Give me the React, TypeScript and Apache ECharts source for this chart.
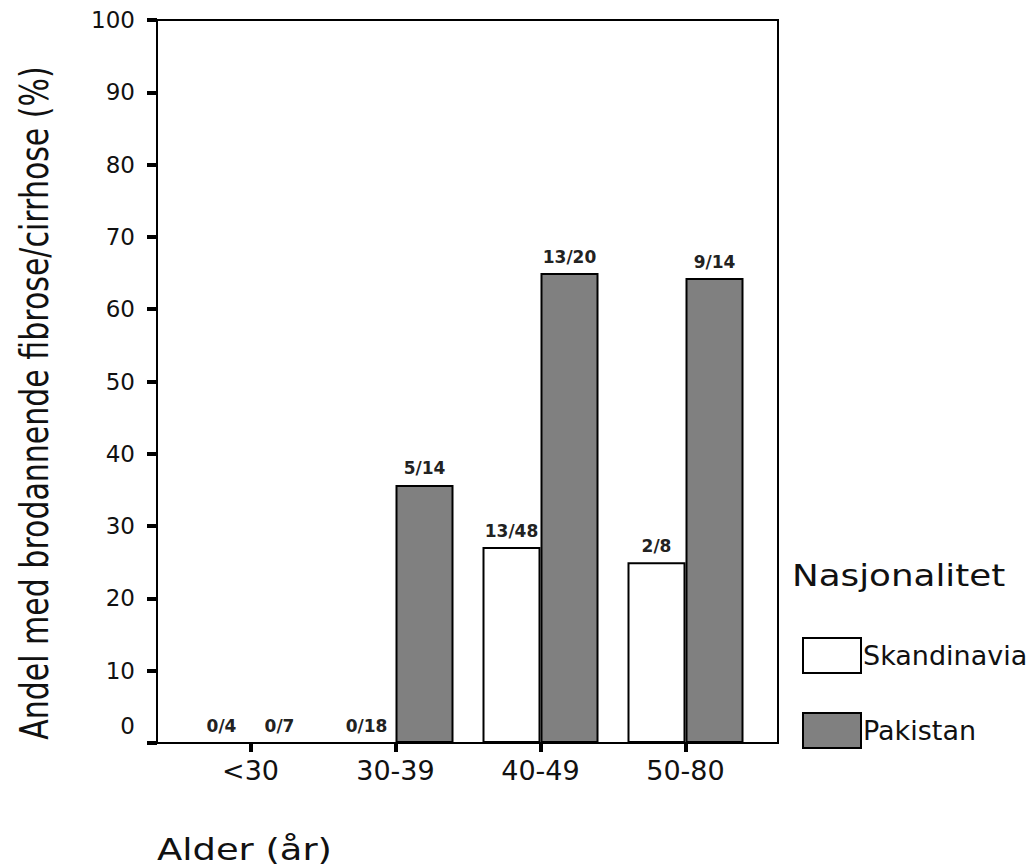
import React, { useEffect, useRef } from "react";
import * as echarts from "echarts";

const ageGroups = ["<30", "30-39", "40-49", "50-80"];
const skandinaviaValues = [0, 0, 27.1, 25.0];
const pakistanValues = [0, 35.7, 65.0, 64.3];
const skandinaviaLabels = ["0/4", "0/18", "13/48", "2/8"];
const pakistanLabels = ["0/7", "5/14", "13/20", "9/14"];
const seriesNames = ["Skandinavia", "Pakistan"];
const yTicks = { min: 0, max: 100, interval: 10 };

const FONT = "DejaVu Sans";

export default function App() {
  const ref = useRef<HTMLDivElement>(null);
  useEffect(() => {
    if (!ref.current) return;
    const chart = echarts.init(ref.current, null, { renderer: "svg" });
    const barLabel = (labels: string[]) => ({
      show: true,
      position: "top",
      distance: 8,
      fontFamily: FONT,
      fontSize: 17,
      fontWeight: "bold",
      color: "#222",
      formatter: (p: any) => labels[p.dataIndex],
    });
    chart.setOption({
      animation: false,
      backgroundColor: "#fff",
      grid: [
        { left: 157, top: 20, width: 621, height: 723, show: true, borderColor: "#000", borderWidth: 2, backgroundColor: "transparent" },
        { left: 178, top: 20, width: 580, height: 723 },
      ],
      xAxis: [
        { gridIndex: 0, type: "category", data: ageGroups, show: false },
        {
          gridIndex: 1,
          type: "category",
          data: ageGroups,
          axisLine: { show: false },
          axisTick: { show: true, alignWithLabel: true, length: 9, lineStyle: { color: "#000", width: 4 } },
          axisLabel: { fontFamily: FONT, fontSize: 27, color: "#111", margin: 14 },
        },
      ],
      yAxis: [
        {
          gridIndex: 0,
          type: "value",
          min: yTicks.min,
          max: yTicks.max,
          interval: yTicks.interval,
          axisLine: { show: false },
          splitLine: { show: false },
          axisTick: { show: true, length: 10, lineStyle: { color: "#000", width: 4 } },
          axisLabel: {
            fontFamily: FONT,
            fontSize: 23,
            lineHeight: 34,
            color: "#111",
            margin: 22,
            padding: [0, 0, 4, 0],
            formatter: (v: number) => (v === 0 ? "0\n " : String(v)),
          },
        },
        { gridIndex: 1, type: "value", min: yTicks.min, max: yTicks.max, show: false },
      ],
      legend: {
        orient: "vertical",
        left: 802,
        top: 637,
        padding: 0,
        itemWidth: 58,
        itemHeight: 35,
        itemGap: 38,
        icon: "rect",
        itemStyle: { borderColor: "#000", borderWidth: 2 },
        textStyle: { fontFamily: FONT, fontSize: 27, color: "#111", padding: [2, 0, 0, -3] },
        data: seriesNames,
      },
      series: [
        {
          name: seriesNames[0],
          type: "bar",
          xAxisIndex: 1,
          yAxisIndex: 1,
          data: skandinaviaValues,
          barWidth: 58,
          barGap: "0%",
          itemStyle: { color: "#ffffff", borderColor: "#000", borderWidth: 2 },
          label: barLabel(skandinaviaLabels),
        },
        {
          name: seriesNames[1],
          type: "bar",
          xAxisIndex: 1,
          yAxisIndex: 1,
          data: pakistanValues,
          barWidth: 58,
          barGap: "0%",
          itemStyle: { color: "#808080", borderColor: "#000", borderWidth: 2 },
          label: barLabel(pakistanLabels),
        },
      ],
      graphic: [
        {
          type: "text",
          x: 35,
          y: 403,
          rotation: Math.PI / 2,
          scaleY: 1.3,
          style: {
            text: "Andel med brodannende fibrose/cirrhose (%)",
            font: `30px '${FONT}'`,
            fill: "#111",
            align: "center",
            verticalAlign: "middle",
          },
        },
        {
          type: "text",
          x: 157,
          y: 850,
          scaleX: 1.23,
          style: { text: "Alder (år)", font: `30px '${FONT}'`, fill: "#111", align: "left", verticalAlign: "middle" },
        },
        {
          type: "text",
          x: 792,
          y: 576,
          scaleX: 1.19,
          style: { text: "Nasjonalitet", font: `30px '${FONT}'`, fill: "#111", align: "left", verticalAlign: "middle" },
        },
      ],
    });
    return () => chart.dispose();
  }, []);
  return <div ref={ref} style={{ position: "fixed", left: 0, top: 0, width: 1034, height: 867 }} />;
}
